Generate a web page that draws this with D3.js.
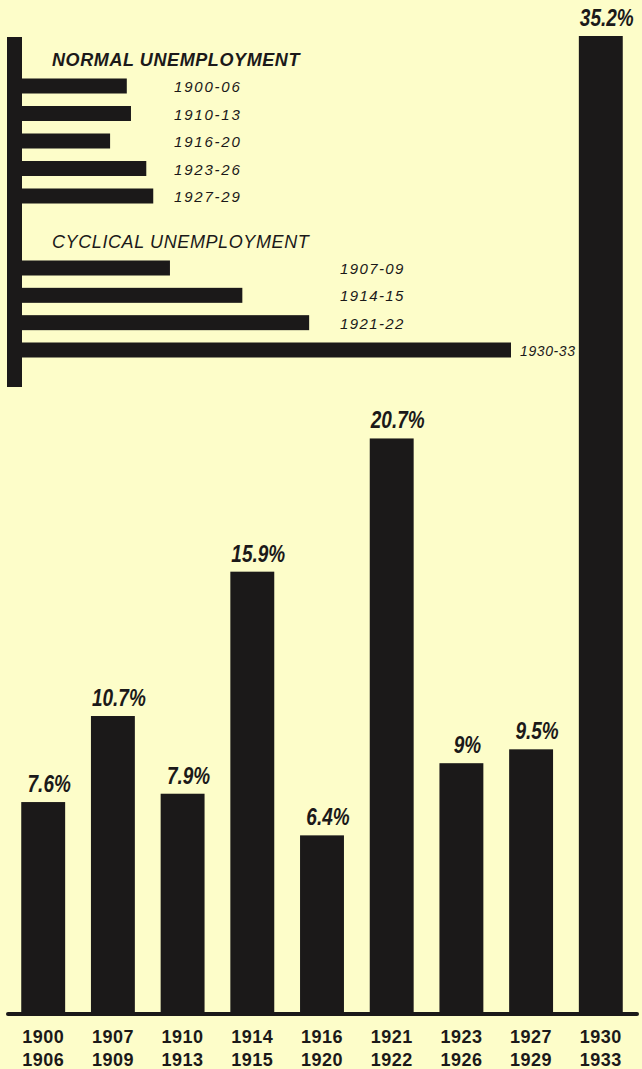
<!DOCTYPE html>
<html>
<head>
<meta charset="utf-8">
<script src="https://cdn.jsdelivr.net/npm/d3@7"></script>
<style>
  html, body { margin: 0; padding: 0; background: #fdfdc9; }
  svg { display: block; }
</style>
</head>
<body>
<svg id="chart" width="642" height="1069"></svg>
<script>
// ---- data ----
const periods = ["1900-06", "1907-09", "1910-13", "1914-15", "1916-20", "1921-22", "1923-26", "1927-29", "1930-33"];
const startYears = ["1900", "1907", "1910", "1914", "1916", "1921", "1923", "1927", "1930"];
const endYears = ["1906", "1909", "1913", "1915", "1920", "1922", "1926", "1929", "1933"];
const rates = [7.6, 10.7, 7.9, 15.9, 6.4, 20.7, 9, 9.5, 35.2];
const valueLabels = ["7.6%", "10.7%", "7.9%", "15.9%", "6.4%", "20.7%", "9%", "9.5%", "35.2%"];
const normalPeriods = ["1900-06", "1910-13", "1916-20", "1923-26", "1927-29"];
const cyclicalPeriods = ["1907-09", "1914-15", "1921-22", "1930-33"];
const normalTitle = "NORMAL UNEMPLOYMENT";
const cyclicalTitle = "CYCLICAL UNEMPLOYMENT";

const rateOf = p => rates[periods.indexOf(p)];
const ink = "#1b1919";
const svg = d3.select("#chart");
const font = "'Liberation Sans', Arial, sans-serif";

// ---- main vertical bars ----
const x = d3.scaleBand().domain(periods).range([8, 636]).paddingInner(0.37).paddingOuter(0.19);
const y = d3.scaleLinear().domain([0, 35.2]).range([1013, 36]);

svg.append("g").selectAll("rect").data(periods).join("rect")
  .attr("x", d => x(d))
  .attr("y", d => y(rateOf(d)))
  .attr("width", x.bandwidth())
  .attr("height", d => y(0) - y(rateOf(d)))
  .attr("fill", ink);

// baseline
svg.append("line")
  .attr("x1", 8).attr("x2", 637)
  .attr("y1", y(0) + 1).attr("y2", y(0) + 1)
  .attr("stroke", ink).attr("stroke-width", 4).attr("stroke-linecap", "round");

// value labels
svg.append("g").selectAll("text").data(periods).join("text")
  .attr("transform", d => `translate(${x(d) + x.bandwidth() / 2 + 6},${y(rateOf(d)) - 10}) scale(1,1.25)`)
  .attr("text-anchor", "middle")
  .attr("font-family", font)
  .attr("font-style", "italic")
  .attr("font-weight", 700)
  .attr("font-size", 19)
  .attr("fill", ink)
  .text((d, i) => valueLabels[i]);

// category axis labels (two lines)
const axisG = svg.append("g")
  .attr("font-family", font)
  .attr("font-size", 18)
  .attr("font-weight", 700)
  .attr("fill", ink)
  .attr("text-anchor", "middle");
axisG.selectAll("text.s").data(periods).join("text").attr("class", "s")
  .attr("x", d => x(d) + x.bandwidth() / 2)
  .attr("y", 1043)
  .attr("letter-spacing", 0.5)
  .text((d, i) => startYears[i]);
axisG.selectAll("text.e").data(periods).join("text").attr("class", "e")
  .attr("x", d => x(d) + x.bandwidth() / 2)
  .attr("y", 1066)
  .attr("letter-spacing", 0.5)
  .text((d, i) => endYears[i]);

// ---- inset horizontal bars ----
const hx = d3.scaleLinear().domain([0, 35.2]).range([21, 511]);
const ny = d3.scalePoint().domain(normalPeriods).range([86, 196]);
const cy = d3.scalePoint().domain(cyclicalPeriods).range([268, 350]);
const barH = 15;

// inset vertical axis
svg.append("rect")
  .attr("x", 7).attr("y", 37).attr("width", 15).attr("height", 350)
  .attr("fill", ink);

const inset = svg.append("g");
inset.selectAll("rect.n").data(normalPeriods).join("rect").attr("class", "n")
  .attr("x", hx(0))
  .attr("y", d => ny(d) - barH / 2)
  .attr("width", d => hx(rateOf(d)) - hx(0))
  .attr("height", barH)
  .attr("fill", ink);
inset.selectAll("rect.c").data(cyclicalPeriods).join("rect").attr("class", "c")
  .attr("x", hx(0))
  .attr("y", d => cy(d) - barH / 2)
  .attr("width", d => hx(rateOf(d)) - hx(0))
  .attr("height", barH)
  .attr("fill", ink);

inset.append("text")
  .attr("x", 52).attr("y", 66)
  .attr("font-family", font).attr("font-style", "italic").attr("font-weight", 700)
  .attr("font-size", 18).attr("letter-spacing", 0.6).attr("fill", ink)
  .text(normalTitle);
inset.append("text")
  .attr("x", 52).attr("y", 248)
  .attr("font-family", font).attr("font-style", "italic").attr("font-weight", 400)
  .attr("font-size", 18).attr("letter-spacing", 0.6).attr("fill", ink)
  .text(cyclicalTitle);

inset.selectAll("text.nl").data(normalPeriods).join("text").attr("class", "nl")
  .attr("x", 174)
  .attr("y", d => ny(d) + 6)
  .attr("font-family", font).attr("font-style", "italic").attr("font-weight", 400)
  .attr("font-size", 15).attr("letter-spacing", 1.8).attr("fill", ink)
  .text(d => d);

inset.selectAll("text.cl").data(cyclicalPeriods).join("text").attr("class", "cl")
  .attr("x", (d, i) => i === cyclicalPeriods.length - 1 ? hx(rateOf(d)) + 9 : 340)
  .attr("y", d => cy(d) + 6)
  .attr("font-family", font).attr("font-style", "italic")
  .attr("font-size", (d, i) => i === cyclicalPeriods.length - 1 ? 14 : 15)
  .attr("letter-spacing", (d, i) => i === cyclicalPeriods.length - 1 ? 0.6 : 1.4)
  .attr("fill", ink)
  .text(d => d);
</script>
</body>
</html>
